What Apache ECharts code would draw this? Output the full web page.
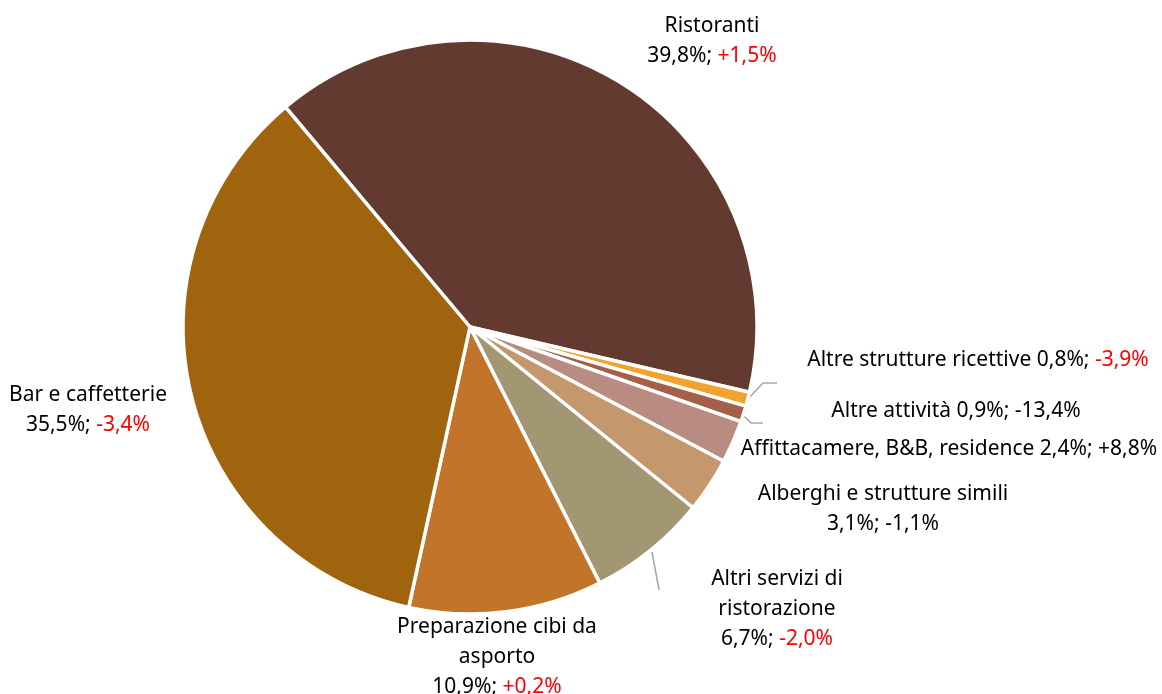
<!DOCTYPE html>
<html>
<head>
<meta charset="utf-8">
<script src="https://cdn.jsdelivr.net/npm/echarts@6/dist/echarts.min.js"></script>
<style>
  html, body { margin: 0; padding: 0; background: #fff; }
  #chart { width: 1162px; height: 694px; }
</style>
</head>
<body>
<div id="chart"></div>
<script>
// data, clockwise from Ristoranti
var categories = [
  "Ristoranti",
  "Altre strutture ricettive",
  "Altre attività",
  "Affittacamere, B&B, residence",
  "Alberghi e strutture simili",
  "Altri servizi di ristorazione",
  "Preparazione cibi da asporto",
  "Bar e caffetterie"
];
var shares = [39.8, 0.8, 0.9, 2.4, 3.1, 6.7, 10.9, 35.5];
var changes = [1.5, -3.9, -13.4, 8.8, -1.1, -2.0, 0.2, -3.4];
var redChange = [true, true, false, false, false, true, true, true];
// how each label is broken into lines
var labelNames = [
  ["Ristoranti"],
  null,
  null,
  null,
  ["Alberghi e strutture simili"],
  ["Altri servizi di", "ristorazione"],
  ["Preparazione cibi da", "asporto"],
  ["Bar e caffetterie"]
];
var colors = ["#633a2f", "#f0a32f", "#a5604a", "#b98c82", "#c4986c", "#a39673", "#c2752a", "#a0640e"];

// label anchor positions (centre of text block) and leader lines
var labelPos = [
  [712, 41], [978, 360], [956, 411], [949, 449],
  [883, 509], [777, 609], [497, 657], [88, 410]
];
var leaderLines = [
  null,
  [[748, 399], [763, 383], [777, 383]],
  [[744, 416], [751, 423], [763, 423]],
  null, null,
  [[652, 552], [659, 590], [659, 590]],
  null, null
];

function fmt(v) {
  return v.toFixed(1).replace(".", ",");
}
function fmtChange(v) {
  return (v > 0 ? "+" : "") + fmt(v) + "%";
}

var pieData = categories.map(function (name, i) {
  var ch = "{" + (redChange[i] ? "r" : "n") + "|" + fmtChange(changes[i]) + "}";
  var text;
  if (labelNames[i]) {
    text = labelNames[i].map(function (l) { return "{n|" + l + "}"; }).join("\n") +
      "\n{n|" + fmt(shares[i]) + "%; }" + ch;
  } else {
    text = "{n|" + name + " " + fmt(shares[i]) + "%; }" + ch;
  }
  return {
    name: name,
    value: shares[i],
    itemStyle: { color: colors[i] },
    label: { formatter: text },
    labelLine: { show: !!leaderLines[i] }
  };
});

var chart = echarts.init(document.getElementById("chart"));
chart.setOption({
  animation: false,
  series: [{
    type: "pie",
    center: [470, 327],
    radius: 287,
    startAngle: 130,
    clockwise: true,
    avoidLabelOverlap: false,
    itemStyle: { borderColor: "#fff", borderWidth: 3.5 },
    label: {
      show: true,
      position: "outside",
      align: "center",
      fontFamily: "Noto Sans",
      rich: {
        n: { color: "#000", fontSize: 21, lineHeight: 30, fontFamily: "Noto Sans" },
        r: { color: "#ff0000", fontSize: 21, lineHeight: 30, fontFamily: "Noto Sans" }
      }
    },
    labelLine: {
      lineStyle: { color: "#a6a6a6", width: 1.5 }
    },
    labelLayout: function (params) {
      var i = params.dataIndex;
      var out = {
        x: labelPos[i][0],
        y: labelPos[i][1],
        align: "center",
        verticalAlign: "middle"
      };
      if (leaderLines[i]) out.labelLinePoints = leaderLines[i];
      return out;
    },
    emphasis: { disabled: true },
    data: pieData
  }]
});
</script>
</body>
</html>
